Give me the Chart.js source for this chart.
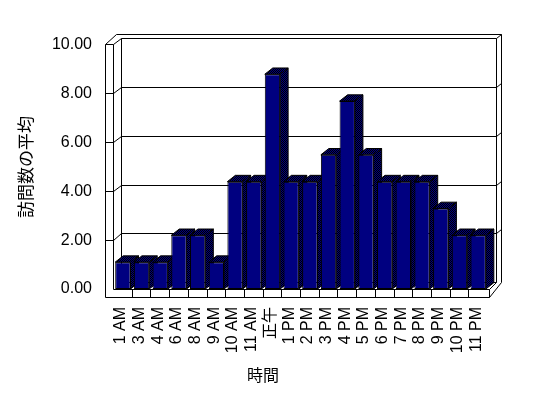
<!DOCTYPE html>
<html>
<head>
<meta charset="utf-8">
<script src="https://cdn.jsdelivr.net/npm/chart.js@4/dist/chart.umd.min.js"></script>
<style>
  html, body { margin: 0; padding: 0; background: #fff; }
  canvas { display: block; }
</style>
</head>
<body>
<canvas id="visits-chart" width="548" height="398"></canvas>
<script>
/* ================================================================ */
/* 時間別 訪問数の平均 (3D 縦棒)                                    */
/* ================================================================ */

const hours = ['1 AM', '3 AM', '4 AM', '6 AM', '8 AM', '9 AM', '10 AM', '11 AM', '正午',
    '1 PM', '2 PM', '3 PM', '4 PM', '5 PM', '6 PM', '7 PM', '8 PM', '9 PM', '10 PM', '11 PM'];
const avgVisits = [1.1, 1.1, 1.1, 2.2, 2.2, 1.1, 4.4, 4.4, 8.8,
    4.4, 4.4, 5.5, 7.7, 5.5, 4.4, 4.4, 4.4, 3.3, 2.2, 2.2];
const yTickLabels = ['0.00', '2.00', '4.00', '6.00', '8.00', '10.00'];

const labelFont = "'Liberation Sans', 'Noto Sans CJK JP', sans-serif";
const cjkFont = "'Noto Sans CJK JP', sans-serif";

// depth of the 3D effect
const DX = 8;
const DY = -6.3;

// navy / black dither used for the bar tops and sides
function ditherPattern(ctx) {
    const c = document.createElement('canvas');
    c.width = 2;
    c.height = 2;
    const p = c.getContext('2d');
    p.fillStyle = '#000080';
    p.fillRect(0, 0, 2, 2);
    p.fillStyle = '#000000';
    p.fillRect(0, 0, 1, 1);
    p.fillRect(1, 1, 1, 1);
    return ctx.createPattern(c, 'repeat');
}

function px(v) {
    return Math.round(v - 0.5) + 0.5;
}

function line(ctx, pts) {
    ctx.beginPath();
    ctx.moveTo(px(pts[0][0]), px(pts[0][1]));
    for (let i = 1; i < pts.length; i++) ctx.lineTo(px(pts[i][0]), px(pts[i][1]));
    ctx.stroke();
}

const box3d = {
    id: 'box3d',
    beforeDatasetsDraw(chart) {
        const { ctx, chartArea: a, scales: { x, y } } = chart;
        const L = a.left, R = a.right, T = a.top, B = a.bottom;

        const wallX = L - 8.5;
        const backL = L + DX;
        const backR = R + 8.5;
        const outerR = R + 14;
        const topInner = T + DY;
        const topOuter = T - 10.5;
        const floorR = R + 1.5;
        const floorBottom = B + 8.5;
        const backBottom = B + DY;

        ctx.save();
        ctx.strokeStyle = '#000';
        ctx.lineWidth = 1;

        // left wall and floor front faces
        line(ctx, [[wallX, T - 1], [wallX, floorBottom], [floorR, floorBottom], [floorR, B], [L, B], [L, T - 1], [wallX, T - 1]]);
        // wall tops
        line(ctx, [[wallX, T - 1], [L + 2.5, topOuter], [outerR, topOuter]]);
        line(ctx, [[L, T - 1], [backL, topInner], [backR, topInner], [outerR, topOuter]]);
        // back wall edges
        line(ctx, [[backL, topInner], [backL, backBottom], [backR, backBottom], [backR, topInner]]);
        line(ctx, [[outerR, topOuter], [outerR, backBottom]]);
        // floor right side
        line(ctx, [[floorR, floorBottom], [outerR, backBottom]]);
        line(ctx, [[floorR, B], [backR, backBottom]]);

        // gridlines on the walls
        [2, 4, 6, 8].forEach(v => {
            const yf = y.getPixelForValue(v);
            line(ctx, [[wallX, yf], [L, yf], [backL, yf + DY], [backR, yf + DY], [outerR, yf + DY - 4]]);
        });

        // category dividers on the floor front
        for (let i = 1; i < hours.length; i++) {
            const xb = (x.getPixelForValue(i - 1) + x.getPixelForValue(i)) / 2;
            line(ctx, [[xb, B], [xb, floorBottom]]);
        }

        // bar tops and sides, left to right
        const pattern = ditherPattern(ctx);
        const meta = chart.getDatasetMeta(0);
        meta.data.forEach(bar => {
            const { x: cx, y: top, base, width } = bar.getProps(['x', 'y', 'base', 'width'], true);
            const xl = cx - width / 2;
            const xr = cx + width / 2;
            ctx.fillStyle = pattern;

            ctx.beginPath();
            ctx.moveTo(xl, top);
            ctx.lineTo(xr, top);
            ctx.lineTo(xr + DX, top + DY);
            ctx.lineTo(xl + DX, top + DY);
            ctx.closePath();
            ctx.fill();
            ctx.stroke();

            ctx.beginPath();
            ctx.moveTo(xr, top);
            ctx.lineTo(xr + DX, top + DY);
            ctx.lineTo(xr + DX, base + DY);
            ctx.lineTo(xr, base);
            ctx.closePath();
            ctx.fill();
            ctx.stroke();
        });

        ctx.restore();
    }
};

Chart.defaults.color = '#000';

new Chart(document.getElementById('visits-chart'), {
    type: 'bar',
    data: {
        labels: hours,
        datasets: [{
            label: '訪問数の平均',
            data: avgVisits,
            backgroundColor: '#000080',
            borderColor: '#000',
            borderWidth: 1,
            borderSkipped: false,
            barPercentage: 0.82,
            categoryPercentage: 1.0
        }]
    },
    options: {
        responsive: false,
        animation: false,
        layout: {
            padding: { left: 38.5, right: 60.5, top: 45, bottom: 0 }
        },
        plugins: {
            legend: { display: false },
            tooltip: { enabled: false },
            title: {
                display: true,
                position: 'bottom',
                text: '時間',
                font: { family: cjkFont, size: 16, weight: 'normal' },
                padding: { top: 0, bottom: 13.4 },
                color: '#000'
            }
        },
        scales: {
            x: {
                grid: { display: false, drawTicks: false },
                border: { display: false },
                ticks: {
                    autoSkip: false,
                    minRotation: 90,
                    maxRotation: 90,
                    padding: 18,
                    labelOffset: -2,
                    font: { family: labelFont, size: 16 }
                },
                afterFit(scale) {
                    scale.height = 76.4;
                }
            },
            y: {
                min: 0,
                max: 10,
                grid: { display: false, drawTicks: false },
                border: { display: false },
                ticks: {
                    stepSize: 2,
                    padding: 21.5,
                    font: { family: labelFont, size: 16 },
                    callback: (value, index) => yTickLabels[index]
                },
                title: {
                    display: true,
                    text: '訪問数の平均',
                    font: { family: cjkFont, size: 17 },
                    padding: { top: -22.7, bottom: 0 }
                },
                afterFit(scale) {
                    scale.width = 75;
                }
            }
        }
    },
    plugins: [box3d]
});
</script>
</body>
</html>
